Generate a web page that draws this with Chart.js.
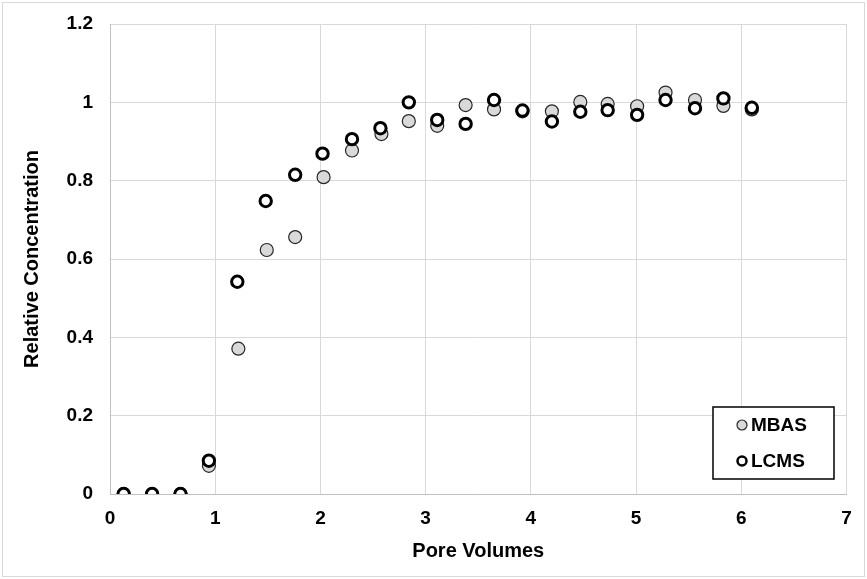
<!DOCTYPE html>
<html>
<head>
  <meta charset="UTF-8">
  <title>Relative Concentration vs Pore Volumes</title>
  <script src="https://cdn.jsdelivr.net/npm/chart.js"></script>
  <style>
    body { margin: 0; background: #fff; }
    #wrap { width: 867px; height: 579px; }
  </style>
</head>
<body>
  <div id="wrap"><canvas id="poreChart" width="867" height="579"></canvas></div>

  <script>
    // pore volumes (x) and relative concentration (y)
    const mbasX = [0.13, 0.40, 0.67, 0.94, 1.22, 1.49, 1.76, 2.03, 2.30, 2.58, 2.84, 3.11, 3.38, 3.65, 3.92, 4.20, 4.47, 4.73, 5.01, 5.28, 5.56, 5.83, 6.10];
    const mbasY = [0, 0, 0, 0.072, 0.371, 0.623, 0.656, 0.809, 0.877, 0.919, 0.952, 0.940, 0.993, 0.982, 0.977, 0.977, 1.001, 0.996, 0.990, 1.025, 1.006, 0.991, 0.982];
    const lcmsX = [0.13, 0.40, 0.67, 0.94, 1.21, 1.48, 1.76, 2.02, 2.30, 2.57, 2.84, 3.11, 3.38, 3.65, 3.92, 4.20, 4.47, 4.73, 5.01, 5.28, 5.56, 5.83, 6.10];
    const lcmsY = [0, 0, 0, 0.085, 0.542, 0.748, 0.815, 0.869, 0.906, 0.934, 1.000, 0.955, 0.945, 1.006, 0.979, 0.951, 0.976, 0.980, 0.968, 1.006, 0.985, 1.010, 0.986];
    const xTicks = [0, 1, 2, 3, 4, 5, 6, 7];
    const yTicks = [0, 0.2, 0.4, 0.6, 0.8, 1, 1.2];

    const toPoints = (xs, ys) => xs.map((x, i) => ({ x: x, y: ys[i] }));
    const FONT = '"Liberation Sans", Arial, sans-serif';

    // outer frame of the chart
    const frame = {
      id: 'frame',
      beforeDraw(chart) {
        const ctx = chart.ctx;
        ctx.save();
        ctx.fillStyle = '#fff';
        ctx.fillRect(0, 0, chart.width, chart.height);
        ctx.strokeStyle = '#d9d9d9';
        ctx.lineWidth = 1;
        ctx.strokeRect(2.5, 2.5, chart.width - 5, chart.height - 5);
        ctx.restore();
      }
    };

    // boxed legend inside the plot, bottom right
    const boxLegend = {
      id: 'boxLegend',
      afterDraw(chart) {
        const ctx = chart.ctx;
        const x0 = 713, y0 = 407, w = 121, h = 72;
        ctx.save();
        ctx.fillStyle = '#fff';
        ctx.fillRect(x0, y0, w, h);
        ctx.strokeStyle = '#000';
        ctx.lineWidth = 1.5;
        ctx.strokeRect(x0, y0, w, h);
        chart.data.datasets.forEach((ds, i) => {
          const cy = y0 + 18 + i * 36;
          ctx.beginPath();
          ctx.arc(742, cy, ds.legendRadius, 0, Math.PI * 2);
          ctx.fillStyle = ds.backgroundColor;
          ctx.fill();
          ctx.lineWidth = ds.legendBorder;
          ctx.strokeStyle = ds.borderColor;
          ctx.stroke();
          ctx.fillStyle = '#000';
          ctx.font = 'bold 19px ' + FONT;
          ctx.textBaseline = 'middle';
          ctx.fillText(ds.label, 751, cy + 1);
        });
        ctx.restore();
      }
    };

    new Chart(document.getElementById('poreChart'), {
      type: 'scatter',
      data: {
        datasets: [
          {
            label: 'MBAS',
            data: toPoints(mbasX, mbasY),
            backgroundColor: '#d9d9d9',
            borderColor: '#262626',
            borderWidth: 1.2,
            pointRadius: 6.5,
            legendRadius: 5,
            legendBorder: 1.2,
            order: 1
          },
          {
            label: 'LCMS',
            data: toPoints(lcmsX, lcmsY),
            backgroundColor: '#ffffff',
            borderColor: '#000000',
            borderWidth: 3,
            pointRadius: 5.7,
            legendRadius: 4.5,
            legendBorder: 2.5,
            order: 0
          }
        ]
      },
      options: {
        responsive: false,
        animation: false,
        layout: { padding: { top: 24, right: 20.5, left: 0, bottom: 0 } },
        plugins: {
          legend: { display: false },
          tooltip: { enabled: false }
        },
        scales: {
          x: {
            type: 'linear',
            min: 0,
            max: 7,
            afterFit: s => { s.height = 85; },
            afterBuildTicks: s => { s.ticks = xTicks.map(v => ({ value: v })); },
            grid: { color: '#d9d9d9', drawTicks: false },
            border: { color: '#bfbfbf' },
            ticks: {
              padding: 13,
              color: '#000',
              font: { family: FONT, size: 19, weight: 'bold' },
              callback: v => String(v)
            },
            title: {
              display: true,
              text: 'Pore Volumes',
              color: '#000',
              font: { family: FONT, size: 20, weight: 'bold' },
              padding: { top: 0, bottom: 16 }
            }
          },
          y: {
            type: 'linear',
            min: 0,
            max: 1.2,
            afterFit: s => { s.width = 110; s.paddingTop = 12; s.paddingBottom = 12; },
            afterBuildTicks: s => { s.ticks = yTicks.map(v => ({ value: v })); },
            grid: { color: '#d9d9d9', drawTicks: false },
            border: { color: '#bfbfbf' },
            ticks: {
              padding: 17,
              color: '#000',
              font: { family: FONT, size: 19, weight: 'bold' },
              callback: v => String(v)
            },
            title: {
              display: true,
              text: 'Relative Concentration',
              color: '#000',
              font: { family: FONT, size: 20, weight: 'bold' },
              padding: { top: 20, bottom: 0 }
            }
          }
        }
      },
      plugins: [frame, boxLegend]
    });
  </script>
</body>
</html>
